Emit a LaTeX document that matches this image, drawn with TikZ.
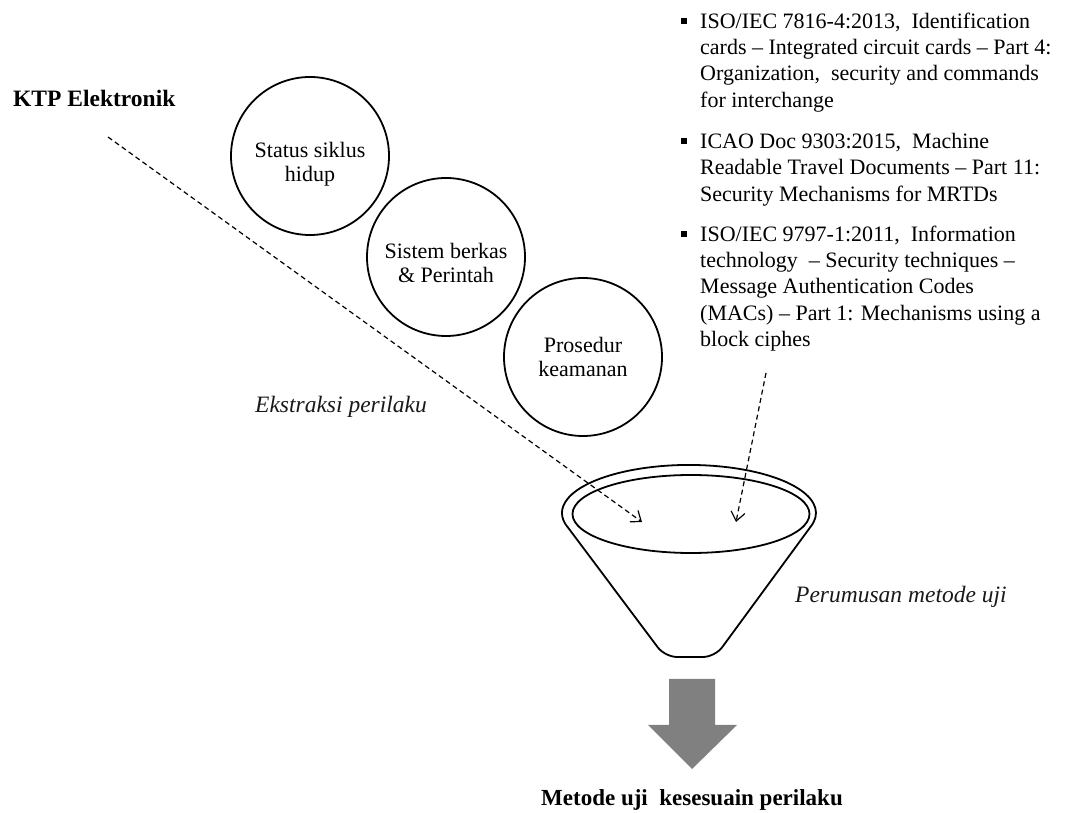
\documentclass[tikz,border=0pt]{standalone}
\usepackage{fontspec}
\setmainfont{Liberation Serif}
\usetikzlibrary{arrows.meta}
\begin{document}
\begin{tikzpicture}[x=1pt,y=1pt,
  stage/.style={circle, draw, line width=1.8pt, minimum size=158pt, inner sep=0pt},
  stagetext/.style={inner sep=0pt, align=center, font=\fontsize{22}{24}\selectfont},
  stdtext/.style={anchor=north west, inner sep=0pt, align=left, font=\fontsize{22}{26.3}\selectfont},
  bulletmark/.style={rectangle, fill=black, inner sep=0pt, minimum size=5.5pt},
  title/.style={anchor=base west, inner sep=0pt, font=\fontsize{23.5}{26}\selectfont\bfseries},
  result/.style={anchor=base, inner sep=0pt, font=\fontsize{23}{26}\selectfont\bfseries},
  note/.style={anchor=base west, inner sep=0pt, font=\fontsize{23.5}{26}\selectfont\itshape, text=black!90},
  flow/.style={line width=1.2pt, dash pattern=on 5pt off 3.5pt, -{Straight Barb[length=9pt,width=14pt]}},
  funnelline/.style={line width=1.8pt, line cap=round, line join=round}
]
\useasboundingbox (0,0) rectangle (1069,812);

% title
\node[title] (ktp) at (13,705) {KTP Elektronik};

% stage circles
\node[stage] (c1) at (310,656) {};
\node[stage] (c2) at (446,555) {};
\node[stage] (c3) at (583,455) {};
\node[stagetext] (t1) at ([yshift=-8pt]c1.center) {Status siklus\\hidup};
\node[stagetext] (t2) at ([yshift=-5.5pt]c2.center) {Sistem berkas\\\& Perintah};
\node[stagetext] (t3) at (c3.center) {Prosedur\\keamanan};

% standards list
\node[bulletmark] (b1) at (684,791) {};
\node[stdtext] (s1) at (700,799.3) {ISO/IEC 7816-4:2013,\ \ Identification\\cards -- Integrated circuit cards -- Part 4:\\Organization,\ \ security and commands\\for interchange};
\node[bulletmark] (b2) at (684,671) {};
\node[stdtext] (s2) at (700,679) {ICAO Doc 9303:2015,\ \ Machine\\Readable Travel Documents -- Part 11:\\Security Mechanisms for MRTDs};
\node[bulletmark] (b3) at (684,578) {};
\node[stdtext] (s3) at (700,586.3) {ISO/IEC 9797-1:2011,\ \ Information\\technology\ \ -- Security techniques --\\Message Authentication Codes\\(MACs) -- Part 1: Mechanisms using a\\block ciphes};

% labels
\node[note] (ext) at (255,399) {Ekstraksi perilaku};
\node[note] (rum) at (795,209) {Perumusan metode uji};

% funnel
\draw[funnelline] (810.4,285) arc[start angle=-17, end angle=197, x radius=127, y radius=48];
\draw[funnelline, rounded corners=12pt] (567.6,285) -- (665,155) -- (715,155) -- (810.4,285);
\draw[funnelline] (691,298) ellipse[x radius=118.5, y radius=39];

% dashed flows
\coordinate (ktpstart) at (108,675);
\coordinate (rimA) at (642,290);
\coordinate (stdstart) at (766,439);
\coordinate (rimB) at (736,290);
\draw[flow] (ktpstart) -- (rimA);
\draw[flow] (stdstart) -- (rimB);

% block arrow
\fill[black!50] (669,133) -- (715,133) -- (715,87) -- (737,87) -- (692,43) -- (648,87) -- (669,87) -- cycle;

% result
\node[result] (res) at (692,7) {Metode uji\ \ kesesuain perilaku};
\end{tikzpicture}
\end{document}
